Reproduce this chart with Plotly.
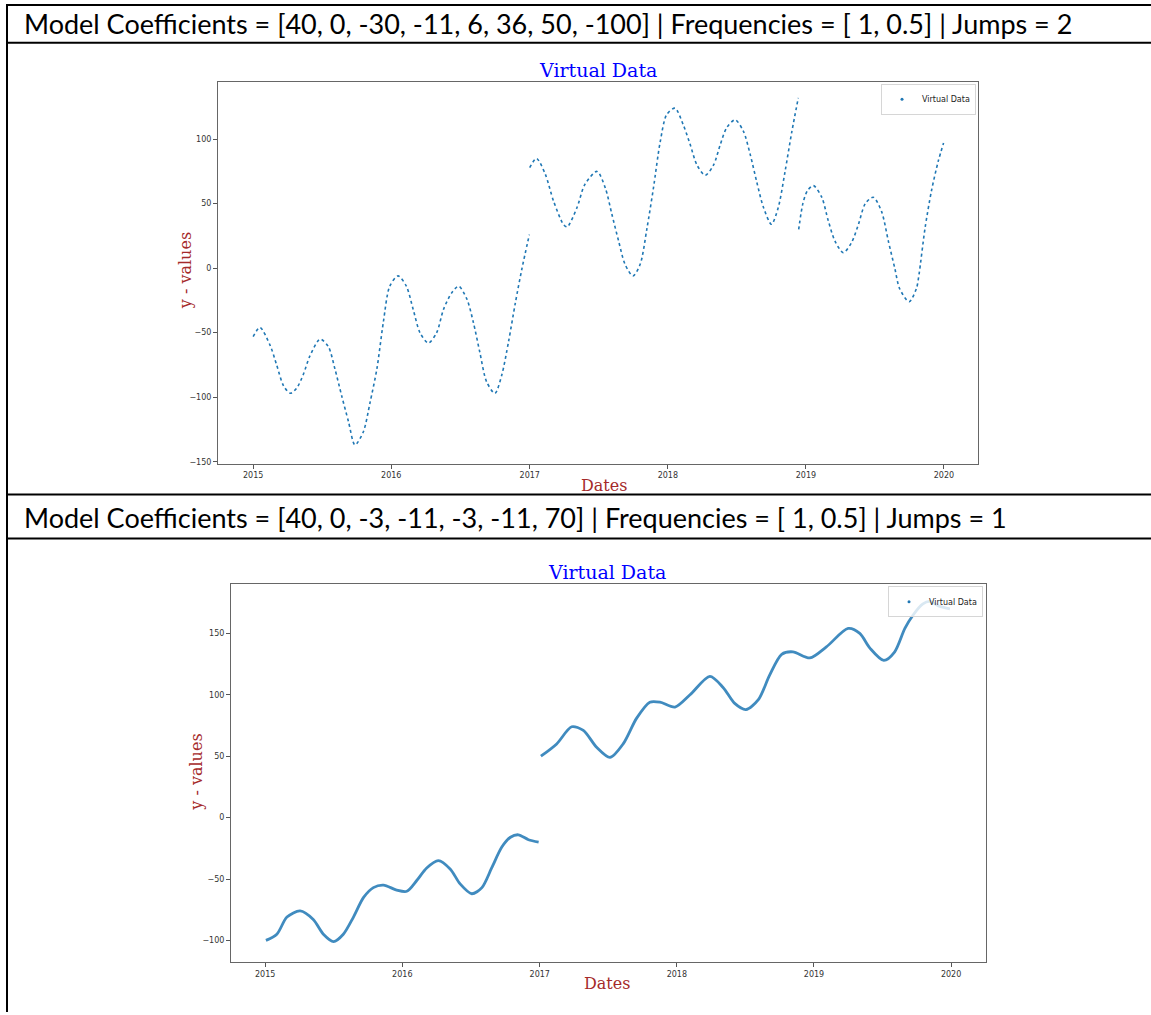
import plotly.graph_objects as go

W, H = 1151, 1015

# ---------------- Chart 1 data (Jumps = 2) ----------------
c1_dates_a = ["2015-01-01", "2015-01-19", "2015-02-15", "2015-03-04", "2015-03-22", "2015-04-09",
              "2015-04-26", "2015-05-14", "2015-05-31", "2015-06-27", "2015-07-19", "2015-08-05",
              "2015-08-23", "2015-09-10", "2015-09-27", "2015-10-19", "2015-11-06", "2015-11-24",
              "2015-12-11", "2015-12-28", "2016-01-19", "2016-02-10", "2016-02-28", "2016-03-17",
              "2016-04-08", "2016-04-30", "2016-05-18", "2016-06-09", "2016-06-27", "2016-07-19",
              "2016-08-05", "2016-08-22", "2016-09-09", "2016-10-01", "2016-10-19", "2016-11-06",
              "2016-11-24", "2016-12-11", "2016-12-31"]
c1_vals_a = [-53, -46, -60, -75, -91, -97,
             -93, -82, -68, -55, -61, -78,
             -99, -119, -137, -127, -104, -78,
             -42, -14, -6, -14, -32, -50,
             -58, -50, -32, -19, -14, -24,
             -42, -65, -88, -97, -83, -57,
             -27, -1, 26]

c1_dates_b = ["2017-01-01", "2017-01-19", "2017-02-11", "2017-03-05", "2017-03-31", "2017-04-10",
              "2017-05-06", "2017-05-27", "2017-06-28", "2017-07-20", "2017-08-06", "2017-08-24",
              "2017-09-10", "2017-10-01", "2017-10-20", "2017-11-07", "2017-11-24", "2017-12-12",
              "2017-12-29", "2018-01-20", "2018-02-11", "2018-03-01", "2018-03-19", "2018-04-10",
              "2018-05-02", "2018-05-20", "2018-06-06", "2018-06-28", "2018-07-20", "2018-08-07",
              "2018-08-24", "2018-09-11", "2018-10-02", "2018-10-20", "2018-11-07", "2018-11-25",
              "2018-12-12"]
c1_vals_b = [78, 85, 73, 52, 34, 32,
             47, 65, 75, 62, 42, 21,
             3, -6, 3, 31, 62, 98,
             119, 124, 111, 96, 80, 72,
             80, 96, 109, 115, 106, 88,
             67, 47, 34, 47, 75, 106,
             132]

c1_dates_c = ["2018-12-13", "2018-12-24", "2019-01-05", "2019-01-21", "2019-02-12", "2019-03-01",
              "2019-03-19", "2019-04-10", "2019-05-02", "2019-05-20", "2019-06-07", "2019-06-28",
              "2019-07-20", "2019-08-07", "2019-08-24", "2019-09-06", "2019-10-01", "2019-10-20",
              "2019-10-27", "2019-11-12", "2019-11-29", "2019-12-17", "2019-12-31"]
c1_vals_c = [30, 50, 60, 64, 55, 37,
             21, 12, 20, 34, 50, 55,
             44, 21, 0, -16, -26, -16,
             -5, 31, 60, 83, 97]

# ---------------- Chart 2 data (Jumps = 1) ----------------
c2_dates_a = ["2015-01-03", "2015-02-01", "2015-02-28", "2015-04-04", "2015-05-09", "2015-06-05",
              "2015-07-02", "2015-07-28", "2015-08-24", "2015-09-20", "2015-10-16", "2015-11-12",
              "2015-12-17", "2016-01-13", "2016-02-09", "2016-03-06", "2016-04-06", "2016-05-08",
              "2016-06-03", "2016-07-04", "2016-07-31", "2016-08-26", "2016-09-22", "2016-10-15",
              "2016-11-05", "2016-12-02", "2016-12-29"]
c2_vals_a = [-100, -95, -81, -76, -83, -95,
             -101, -95, -81, -65, -57, -55,
             -59, -60, -51, -41, -35, -42,
             -54, -62, -57, -41, -24, -16,
             -14, -18, -20]

c2_dates_b = ["2017-01-04", "2017-02-15", "2017-03-27", "2017-04-27", "2017-06-02", "2017-07-07",
              "2017-08-11", "2017-09-16", "2017-10-21", "2017-11-17", "2017-12-27", "2018-02-05",
              "2018-03-30", "2018-05-04", "2018-06-04", "2018-07-04", "2018-08-06", "2018-09-05",
              "2018-10-07", "2018-11-06", "2018-12-21", "2019-02-03", "2019-04-02", "2019-05-03",
              "2019-05-30", "2019-07-06", "2019-08-04", "2019-08-31", "2019-09-22", "2019-10-18",
              "2019-11-05", "2019-12-02", "2019-12-29"]
c2_vals_b = [50, 60, 74, 71, 57, 49,
             60, 81, 94, 94, 90, 100,
             115, 106, 93, 88, 96, 116,
             133, 135, 130, 139, 154, 150,
             138, 128, 135, 154, 165, 174,
             176, 172, 170]

year_ticks = ["2015-01-01", "2016-01-01", "2017-01-01", "2018-01-01", "2019-01-01", "2020-01-01"]
year_labels = ["2015", "2016", "2017", "2018", "2019", "2020"]
c1_yticks = [-150, -100, -50, 0, 50, 100]
c2_yticks = [-100, -50, 0, 50, 100, 150]

header1 = "Model Coefficients = [40, 0, -30, -11, 6, 36, 50, -100] | Frequencies = [ 1, 0.5] | Jumps = 2"
header2 = "Model Coefficients = [40, 0, -3, -11, -3, -11, 70] | Frequencies = [ 1, 0.5] | Jumps = 1"
title_text = "Virtual Data"
series_name = "Virtual Data"

BLUE = "#1f77b4"


def px(x):
    return x / W


def py(y):
    return 1 - y / H


def join(*segs):
    xs, ys = [], []
    for i, (d, v) in enumerate(segs):
        if i:
            xs.append(None)
            ys.append(None)
        xs += d
        ys += v
    return xs, ys


x1, y1 = join((c1_dates_a, c1_vals_a), (c1_dates_b, c1_vals_b), (c1_dates_c, c1_vals_c))
x2, y2 = join((c2_dates_a, c2_vals_a), (c2_dates_b, c2_vals_b))

fig = go.Figure()
fig.add_trace(go.Scatter(x=x1, y=y1, mode="lines", connectgaps=False, showlegend=False,
                         line=dict(color=BLUE, width=1.6, dash="dot", shape="spline", smoothing=0.8),
                         xaxis="x", yaxis="y"))
fig.add_trace(go.Scatter(x=[None], y=[None], mode="markers", name=series_name,
                         marker=dict(color=BLUE, size=3), xaxis="x", yaxis="y", legend="legend"))
fig.add_trace(go.Scatter(x=x2, y=y2, mode="lines", connectgaps=False, showlegend=False,
                         line=dict(color=BLUE, width=2.8, shape="spline", smoothing=0.8),
                         opacity=0.85, xaxis="x2", yaxis="y2"))
fig.add_trace(go.Scatter(x=[None], y=[None], mode="markers", name=series_name,
                         marker=dict(color=BLUE, size=3), xaxis="x2", yaxis="y2", legend="legend2"))

tickfont = dict(family="DejaVu Sans", size=8, color="#333")
common_x = dict(type="date", tickvals=year_ticks, ticktext=year_labels, ticks="outside", ticklen=4,
                tickcolor="#555", showgrid=False, zeroline=False, showline=True, linecolor="#666",
                linewidth=1, mirror=True, tickfont=tickfont)
common_y = dict(ticks="outside", ticklen=4, tickcolor="#555", showgrid=False, zeroline=False,
                showline=True, linecolor="#666", linewidth=1, mirror=True, tickfont=tickfont)

legend_style = dict(bgcolor="rgba(255,255,255,0.8)", bordercolor="#d6d6d6", borderwidth=1,
                    font=dict(family="DejaVu Sans", size=8, color="#222"), itemwidth=30,
                    xanchor="right", yanchor="top", tracegroupgap=0)

fig.update_layout(
    width=W, height=H, autosize=False,
    margin=dict(l=0, r=0, t=0, b=0),
    paper_bgcolor="white", plot_bgcolor="white",
    xaxis=dict(common_x, domain=[px(218), px(978)], range=["2014-09-30", "2020-03-31"], anchor="y"),
    yaxis=dict(common_y, domain=[py(465), py(82)], range=[-151.5, 144.5], tickvals=c1_yticks, anchor="x"),
    xaxis2=dict(common_x, domain=[px(231), px(986)], range=["2014-10-02", "2020-04-03"], anchor="y2"),
    yaxis2=dict(common_y, domain=[py(965), py(586)], range=[-117.7, 190], tickvals=c2_yticks, anchor="x2"),
    legend=dict(legend_style, x=px(976), y=py(84)),
    legend2=dict(legend_style, x=px(983), y=py(588)),
)

serif = "DejaVu Serif"
ann = []
# headers
for text, yc in [(header1, 24), (header2, 519)]:
    ann.append(dict(text=text, x=px(22), y=py(yc), xref="paper", yref="paper", xanchor="left",
                    yanchor="middle", showarrow=False,
                    font=dict(family="Lato, Liberation Sans", size=27, color="black")))
# titles
for xc, yc in [(598, 70), (607, 574)]:
    ann.append(dict(text=title_text, x=px(xc), y=py(yc), xref="paper", yref="paper", xanchor="center",
                    yanchor="middle", showarrow=False, font=dict(family=serif, size=19, color="blue")))
# x labels
for xc, yc in [(604, 487), (607, 986)]:
    ann.append(dict(text="Dates", x=px(xc), y=py(yc), xref="paper", yref="paper", xanchor="center",
                    yanchor="middle", showarrow=False, font=dict(family=serif, size=16, color="#a52a2a")))
# y labels
for xc, yc in [(185, 272), (197, 775)]:
    ann.append(dict(text="y - values", x=px(xc), y=py(yc), xref="paper", yref="paper", xanchor="center",
                    yanchor="middle", textangle=-90, showarrow=False,
                    font=dict(family=serif, size=16, color="#a52a2a")))
fig.update_layout(annotations=ann)

# table borders
shapes = []
for yl in [5, 43, 496, 540]:
    shapes.append(dict(type="line", xref="paper", yref="paper", x0=px(7), x1=1, y0=py(yl), y1=py(yl),
                       line=dict(color="black", width=2)))
shapes.append(dict(type="line", xref="paper", yref="paper", x0=px(7), x1=px(7), y0=py(4), y1=0,
                   line=dict(color="black", width=2)))
fig.update_layout(shapes=shapes)

fig.write_html("out.html", config={"displayModeBar": False},
               post_script="document.body.style.margin='0';")
